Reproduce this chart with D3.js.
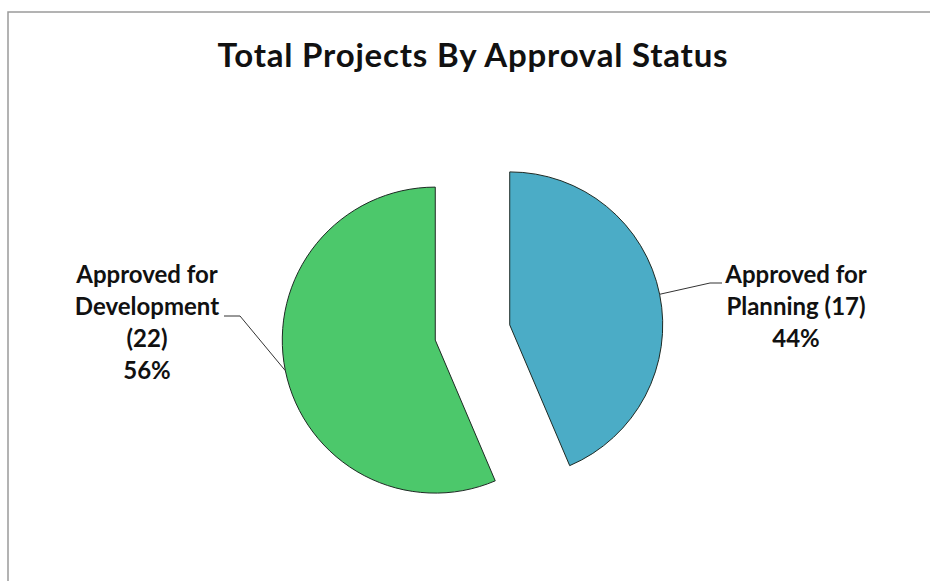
<!DOCTYPE html>
<html>
<head>
<meta charset="utf-8">
<script src="https://cdn.jsdelivr.net/npm/d3@7"></script>
<style>
  html, body { margin: 0; padding: 0; background: #fff; }
  svg { display: block; font-family: Lato, "Open Sans", sans-serif; }
</style>
</head>
<body>
<svg id="chart" width="930" height="581"></svg>
<script>
// Approval status counts
const categories = ["Approved for Planning", "Approved for Development"];
const counts = [17, 22];
const colors = ["#4BACC6", "#4CC86B"];
const titleText = "Total Projects By Approval Status";

const W = 930, H = 581;
const svg = d3.select("#chart");

// chart frame (only top and left edges fall inside the window)
svg.append("rect")
  .attr("x", 8).attr("y", 12)
  .attr("width", 1000).attr("height", 1000)
  .attr("fill", "#fff")
  .attr("stroke", "#9a9a9a")
  .attr("stroke-width", 1.5);

svg.append("text")
  .attr("x", 473).attr("y", 67)
  .attr("text-anchor", "middle")
  .attr("font-size", 33)
  .attr("font-weight", 700)
  .attr("letter-spacing", 0.8)
  .attr("fill", "#111")
  .text(titleText);

const total = d3.sum(counts);
const data = categories.map((c, i) => ({ name: c, value: counts[i], color: colors[i] }));

const cx = 472.5, cy = 332.5, R = 153, explode = 38;

const pie = d3.pie().value(d => d.value).sort(null).startAngle(0).endAngle(2 * Math.PI);
const arc = d3.arc().innerRadius(0).outerRadius(R);
const arcs = pie(data);

const g = svg.append("g").attr("transform", `translate(${cx},${cy})`);

arcs.forEach(a => {
  const mid = (a.startAngle + a.endAngle) / 2;
  a.dx = Math.sin(mid) * explode;
  a.dy = -Math.cos(mid) * explode;
  a.mid = mid;
});

g.selectAll("path.slice")
  .data(arcs)
  .join("path")
  .attr("class", "slice")
  .attr("transform", d => `translate(${d.dx},${d.dy})`)
  .attr("d", arc)
  .attr("fill", d => d.data.color)
  .attr("stroke", "#1e2a24")
  .attr("stroke-width", 1);

// data labels with leader lines
const labelSpecs = [
  { lines: d => ["Approved for", `Planning (${d.value})`], x: 796, y: 283, elbow: [710, 283], end: [722, 283] },
  { lines: d => ["Approved for", "Development", `(${d.value})`], x: 147, y: 283, elbow: [240, 316], end: [224, 316] }
];

arcs.forEach((a, i) => {
  const spec = labelSpecs[i];
  const px = cx + a.dx + Math.sin(a.mid) * R;
  const py = cy + a.dy - Math.cos(a.mid) * R;
  svg.append("polyline")
    .attr("points", [[px, py], spec.elbow, spec.end].map(p => p.join(",")).join(" "))
    .attr("fill", "none")
    .attr("stroke", "#333")
    .attr("stroke-width", 1);

  const pct = Math.round(a.data.value / total * 100) + "%";
  const lines = spec.lines(a.data).concat([pct]);
  const t = svg.append("text")
    .attr("text-anchor", "middle")
    .attr("font-size", 24)
    .attr("font-weight", 700)
    .attr("fill", "#111");
  lines.forEach((ln, k) => {
    t.append("tspan").attr("x", spec.x).attr("y", spec.y + k * 32).text(ln);
  });
});
</script>
</body>
</html>
